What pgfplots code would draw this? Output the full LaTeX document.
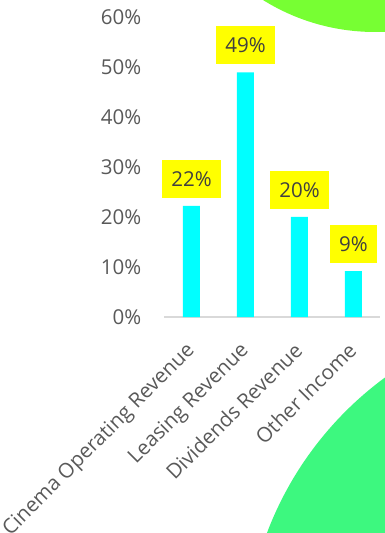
\documentclass[border=0pt]{standalone}
\usepackage{pgfplots}
\pgfplotsset{compat=1.18}
\usepackage{fontspec}
\setmainfont{Open Sans}
\definecolor{topgreen}{HTML}{77FF33}
\definecolor{botgreen}{HTML}{3DF87F}
\definecolor{barcyan}{HTML}{00FFFF}
\definecolor{lblyellow}{HTML}{FFFF00}
\definecolor{tickgray}{HTML}{595959}
\definecolor{lbltext}{HTML}{404040}
\definecolor{axgray}{HTML}{D9D9D9}
\newcommand{\chartfont}{\fontsize{20.5pt}{24pt}\selectfont}
\begin{document}
\begin{tikzpicture}
\fill[topgreen] (375pt,713pt) circle (212pt);
\fill[botgreen] (588pt,-121pt) circle (343pt);
\begin{axis}[
  at={(164.5pt,216pt)}, anchor=south west,
  scale only axis, width=216pt, height=300pt,
  xmin=-0.5, xmax=3.5, ymin=0, ymax=60,
  axis lines*=left,
  separate axis lines,
  y axis line style={draw=none},
  x axis line style={draw=axgray, line width=1.4pt},
  ytick={0,10,...,60},
  yticklabel={\pgfmathprintnumber{\tick}\%},
  xtick={0,1,2,3},
  xticklabels={Cinema Operating Revenue, Leasing Revenue, Dividends Revenue, Other Income},
  major tick length=0pt,
  tick style={draw=none},
  /pgf/number format/assume math mode=true,
  yticklabel style={font=\chartfont, text=tickgray, inner sep=0pt, anchor=east, xshift=-23pt},
  xticklabel style={font=\chartfont, text=tickgray, rotate=45, anchor=north east, inner sep=0pt, xshift=-21.6pt, yshift=-11.9pt},
  clip=false,
]
\addplot[ybar, bar width=17pt, fill=barcyan, draw=none,
  nodes near coords={\pgfmathprintnumber[fixed,precision=0]{\pgfplotspointmeta}\%},
  every node near coord/.append style={font=\chartfont, text=lbltext, fill=lblyellow,
    inner xsep=9pt, inner ysep=0pt, minimum height=38pt, anchor=south, yshift=8pt}]
  coordinates {(0,22.2) (1,48.9) (2,20.0) (3,9.2)};
\end{axis}
\pgfresetboundingbox
\useasboundingbox (0pt,0pt) rectangle (384pt,533pt);
\end{tikzpicture}
\end{document}
